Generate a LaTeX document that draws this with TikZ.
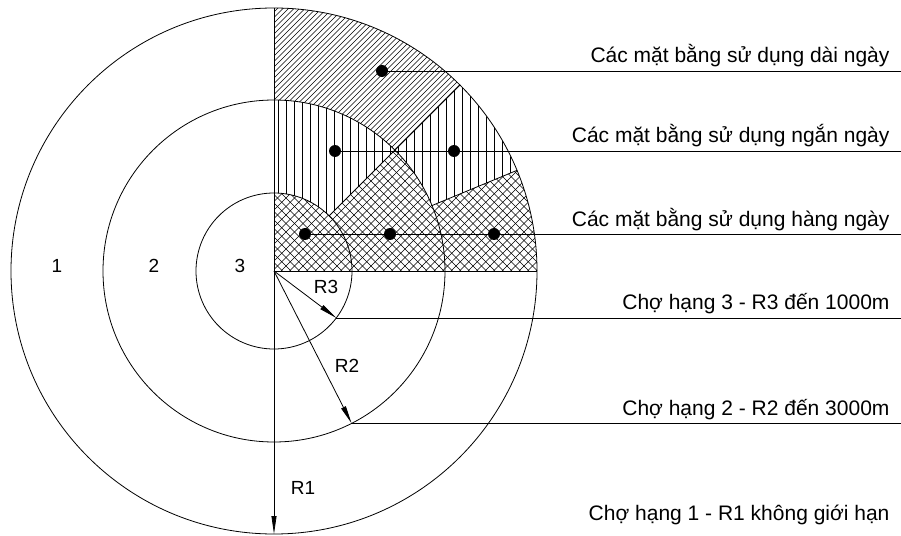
\documentclass[tikz,border=0pt]{standalone}
\usepackage{fontspec}
\setmainfont{Liberation Sans}
\usetikzlibrary{arrows.meta,calc}
\def\Ra{263}
\def\Rb{171}
\def\Rc{78}

\begin{document}
\begin{tikzpicture}[x=1pt,y=1pt,
    hatch/.style={line width=0.5pt},
    ring/.style={line width=0.8pt},
    dot/.style={circle,fill=black,inner sep=0pt,minimum size=12pt},
    lbl/.style={font=\fontsize{21}{25}\selectfont,anchor=base east},
    num/.style={font=\fontsize{19}{23}\selectfont},
    arr/.style={line width=0.8pt,-{Triangle[length=18pt,width=5pt]}}]
  \useasboundingbox (-274,-264) rectangle (627,271);
  \coordinate (o) at (0,0);
  \coordinate (e) at (627,0);
  % long-term zone, diagonal hatch
  \begin{scope}
    \clip (45:\Rb) arc[start angle=45,end angle=90,radius=\Rb] -- (90:\Ra) arc[start angle=90,end angle=45,radius=\Ra] -- cycle;
    \foreach \c in {-270,-264.5,...,80}{\draw[hatch] (\c,0) -- ++(300,300);}
  \end{scope}
  % short-term zone, vertical hatch
  \begin{scope}
    \clip (22.5:\Rb) arc[start angle=22.5,end angle=45,radius=\Rb] -- (45:\Rc) arc[start angle=45,end angle=90,radius=\Rc] -- (90:\Rb) arc[start angle=90,end angle=45,radius=\Rb] -- (45:\Ra) arc[start angle=45,end angle=22.5,radius=\Ra] -- cycle;
    \foreach \x in {4,12,...,260}{\draw[hatch] (\x,0) -- (\x,270);}
  \end{scope}
  % daily zone, cross hatch
  \begin{scope}
    \clip (o) -- (\Ra,0) arc[start angle=0,end angle=22.5,radius=\Ra] -- (22.5:\Rb) arc[start angle=22.5,end angle=45,radius=\Rb] -- (45:\Rc) arc[start angle=45,end angle=90,radius=\Rc] -- cycle;
    \foreach \c in {-180,-171.5,...,270}{\draw[hatch] (\c,0) -- ++(200,200);}
    \foreach \c in {0,8.5,...,460}{\draw[hatch] (\c,0) -- ++(-200,200);}
  \end{scope}
  % circles and zone borders
  \foreach \r in {\Ra,\Rb,\Rc}{\draw[ring] (o) circle[radius=\r];}
  \draw[ring] (45:\Rc) -- (45:\Ra);
  \draw[ring] (22.5:\Rb) -- (22.5:\Ra);
  \draw[ring] (o) -- (\Ra,0);
  \draw[ring] (90:\Ra) -- (o);
  % radii
  \coordinate (p3) at (-37:\Rc);
  \coordinate (p2) at (-63:\Rb);
  \coordinate (p1) at (-90:\Ra);
  \draw[arr] (o) -- (p3);
  \draw[arr] (o) -- (p2);
  \draw[arr] (o) -- (p1);
  \node[num] (r3) at (52,-16) {R3};
  \node[num] (r2) at (73,-95) {R2};
  \node[num] (r1) at (29,-217) {R1};
  \node[num] (z1) at (-217,5) {1};
  \node[num] (z2) at (-120,5) {2};
  \node[num] (z3) at (-34,5) {3};
  % dots and leaders
  \node[dot] (dl) at (108,200) {};
  \node[dot] (ds1) at (61,120) {};
  \node[dot] (ds2) at (180,120) {};
  \node[dot] (dd1) at (31,37) {};
  \node[dot] (dd2) at (116,37) {};
  \node[dot] (dd3) at (220,37) {};
  \draw[ring] (dl.center) -- (dl -| e);
  \draw[ring] (ds1.center) -- (ds1 -| e);
  \draw[ring] (dd1.center) -- (dd1 -| e);
  \draw[ring] (p3) -- (p3 -| e);
  \draw[ring] (p2) -- (p2 -| e);
  % labels
  \node[lbl] (tl) at ($(dl -| e)+(-8,8)$) {Các mặt bằng sử dụng dài ngày};
  \node[lbl] (ts) at ($(ds1 -| e)+(-8,8)$) {Các mặt bằng sử dụng ngắn ngày};
  \node[lbl] (td) at ($(dd1 -| e)+(-8,8)$) {Các mặt bằng sử dụng hàng ngày};
  \node[lbl] (t3) at ($(p3 -| e)+(-8,8)$) {Chợ hạng 3 - R3 đến 1000m};
  \node[lbl] (t2) at ($(p2 -| e)+(-8,8)$) {Chợ hạng 2 - R2 đến 3000m};
  \node[lbl] (t1) at (619,-249) {Chợ hạng 1 - R1 không giới hạn};
\end{tikzpicture}
\end{document}
